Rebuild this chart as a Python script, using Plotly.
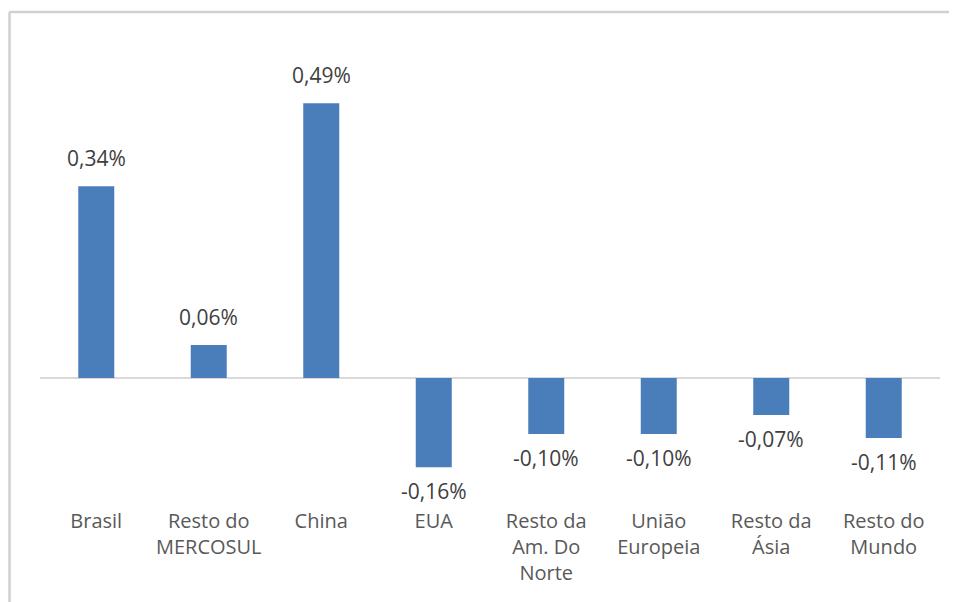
import plotly.graph_objects as go

categories = ["Brasil", "Resto do<br>MERCOSUL", "China", "EUA", "Resto da<br>Am. Do<br>Norte",
              "União<br>Europeia", "Resto da<br>Ásia", "Resto do<br>Mundo"]
values = [0.342, 0.059, 0.490, -0.159, -0.0998, -0.0998, -0.066, -0.107]
labels = ["0,34%", "0,06%", "0,49%", "-0,16%", "-0,10%", "-0,10%", "-0,07%", "-0,11%"]

BAR = "#4a7ebb"

fig = go.Figure()
fig.add_trace(go.Bar(x=categories, y=values, marker=dict(color=BAR, line=dict(width=0)),
                     width=0.32, hoverinfo="skip"))

for c, v, t in zip(categories, values, labels):
    fig.add_annotation(x=c, y=v, text=t, showarrow=False,
                       yanchor="bottom" if v >= 0 else "top",
                       yshift=12 if v >= 0 else -8,
                       font=dict(family="Open Sans", size=21, color="#404040"))

W, H = 957, 602
L, R, T, B = 32, 25, 52, 103
pw = W - L - R
ph = H - T - B
def px(x):
    return (x - L) / pw
def py(y):
    return 1 - (y - T) / ph

line = dict(color="#d0d0d0", width=2.5)
fig.add_shape(type="line", xref="paper", yref="paper", x0=px(1.5), x1=px(1.5), y0=py(4), y1=py(620), line=line)
fig.add_shape(type="line", xref="paper", yref="paper", x0=px(1.5), x1=px(970), y0=py(4), y1=py(4), line=line)

fig.update_layout(
    width=W, height=H,
    margin=dict(l=L, r=R, t=T, b=B),
    paper_bgcolor="white", plot_bgcolor="white",
    showlegend=False,
    xaxis=dict(showgrid=False, showline=False, ticks="",
               tickfont=dict(family="Open Sans", size=20, color="#595959")),
    yaxis=dict(range=[-0.230, 0.567], showgrid=False, showticklabels=False,
               zeroline=True, zerolinecolor="#d9d9d9", zerolinewidth=2),
)

fig.write_html("out.html")
